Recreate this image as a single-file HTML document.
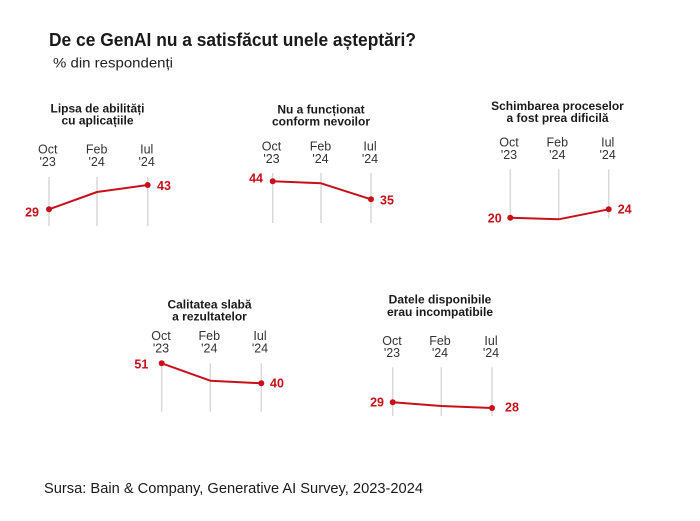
<!DOCTYPE html>
<html><head><meta charset="utf-8"><style>
html,body{margin:0;padding:0;background:#fff;}
svg{display:block;}
text{font-family:"Liberation Sans",Arial,sans-serif;}
.t{font-weight:bold;font-size:12px;fill:#1a1a1a;text-anchor:middle;}
.k{font-size:12.5px;fill:#333;text-anchor:middle;}
.v{font-weight:bold;font-size:12.5px;fill:#c8101a;}
.g{stroke:#d9d9d9;stroke-width:1.5;}
.l{fill:none;stroke:#c8101a;stroke-width:2;stroke-linejoin:round;}
.d{fill:#c8101a;}
</style></head><body>
<svg width="700" height="521" viewBox="0 0 700 521" xmlns="http://www.w3.org/2000/svg">
<rect width="700" height="521" fill="#fff"/>
<text x="49" y="46" font-size="18" font-weight="bold" fill="#1a1a1a" textLength="367" lengthAdjust="spacingAndGlyphs">De ce GenAI nu a satisfăcut unele așteptări?</text>
<text x="53" y="67.5" font-size="13.5" fill="#222" textLength="120" lengthAdjust="spacingAndGlyphs">% din respondenți</text>

<!-- Panel 1 -->
<text class="t" x="97.5" y="112.7">Lipsa de abilități</text>
<text class="t" x="97.5" y="124.5">cu aplicațiile</text>
<text class="k" x="47.7" y="153.5">Oct</text><text class="k" x="47.7" y="166">'23</text>
<text class="k" x="96.7" y="153.5">Feb</text><text class="k" x="96.7" y="166">'24</text>
<text class="k" x="146.7" y="153.5">Iul</text><text class="k" x="146.7" y="166">'24</text>
<line class="g" x1="49" y1="177" x2="49" y2="226"/>
<line class="g" x1="97" y1="177" x2="97" y2="226"/>
<line class="g" x1="147.7" y1="177" x2="147.7" y2="226"/>
<polyline class="l" points="49,209.3 97,192 147.7,185"/>
<circle class="d" cx="49" cy="209.3" r="3"/><circle class="d" cx="147.7" cy="185" r="3"/>
<text class="v" x="39" y="216.5" text-anchor="end">29</text>
<text class="v" x="157" y="190">43</text>

<!-- Panel 2 -->
<text class="t" x="321" y="113.3">Nu a funcționat</text>
<text class="t" x="321" y="125.5">conform nevoilor</text>
<text class="k" x="271.5" y="150.5">Oct</text><text class="k" x="271.5" y="163">'23</text>
<text class="k" x="320.5" y="150.5">Feb</text><text class="k" x="320.5" y="163">'24</text>
<text class="k" x="370" y="150.5">Iul</text><text class="k" x="370" y="163">'24</text>
<line class="g" x1="272.7" y1="173" x2="272.7" y2="223"/>
<line class="g" x1="321" y1="173" x2="321" y2="223"/>
<line class="g" x1="371" y1="173" x2="371" y2="223"/>
<polyline class="l" points="272.7,181.3 321,183.3 371,199.3"/>
<circle class="d" cx="272.7" cy="181.3" r="3"/><circle class="d" cx="371" cy="199.3" r="3"/>
<text class="v" x="263" y="182.5" text-anchor="end">44</text>
<text class="v" x="380" y="204.5">35</text>

<!-- Panel 3 -->
<text class="t" x="557.5" y="110">Schimbarea proceselor</text>
<text class="t" x="557.5" y="122">a fost prea dificilă</text>
<text class="k" x="509" y="146.5">Oct</text><text class="k" x="509" y="159">'23</text>
<text class="k" x="557.3" y="146.5">Feb</text><text class="k" x="557.3" y="159">'24</text>
<text class="k" x="607.7" y="146.5">Iul</text><text class="k" x="607.7" y="159">'24</text>
<line class="g" x1="510.3" y1="169.3" x2="510.3" y2="218.3"/>
<line class="g" x1="558.7" y1="169.3" x2="558.7" y2="218.3"/>
<line class="g" x1="608.7" y1="169.3" x2="608.7" y2="218.3"/>
<polyline class="l" points="510.3,217.7 558.7,219.3 608.7,209.3"/>
<circle class="d" cx="510.3" cy="217.7" r="3"/><circle class="d" cx="608.7" cy="209.3" r="3"/>
<text class="v" x="501.7" y="222.5" text-anchor="end">20</text>
<text class="v" x="617.7" y="213.5">24</text>

<!-- Panel 4 -->
<text class="t" x="209.5" y="308.5">Calitatea slabă</text>
<text class="t" x="209.5" y="320.3">a rezultatelor</text>
<text class="k" x="161" y="340">Oct</text><text class="k" x="161" y="352.5">'23</text>
<text class="k" x="209.3" y="340">Feb</text><text class="k" x="209.3" y="352.5">'24</text>
<text class="k" x="260" y="340">Iul</text><text class="k" x="260" y="352.5">'24</text>
<line class="g" x1="161.7" y1="363.3" x2="161.7" y2="411.7"/>
<line class="g" x1="210.3" y1="363.3" x2="210.3" y2="411.7"/>
<line class="g" x1="261.3" y1="363.3" x2="261.3" y2="411.7"/>
<polyline class="l" points="161.7,363.3 210.3,380.7 261.3,383.3"/>
<circle class="d" cx="161.7" cy="363.3" r="3"/><circle class="d" cx="261.3" cy="383.3" r="3"/>
<text class="v" x="148.3" y="368.5" text-anchor="end">51</text>
<text class="v" x="270" y="387.5">40</text>

<!-- Panel 5 -->
<text class="t" x="440" y="303.5">Datele disponibile</text>
<text class="t" x="440" y="316">erau incompatibile</text>
<text class="k" x="392" y="345">Oct</text><text class="k" x="392" y="357">'23</text>
<text class="k" x="440" y="345">Feb</text><text class="k" x="440" y="357">'24</text>
<text class="k" x="491" y="345">Iul</text><text class="k" x="491" y="357">'24</text>
<line class="g" x1="392.7" y1="367.3" x2="392.7" y2="416"/>
<line class="g" x1="441.3" y1="367.3" x2="441.3" y2="416"/>
<line class="g" x1="492" y1="367.3" x2="492" y2="416"/>
<polyline class="l" points="392.7,402.3 441.3,406 492,408"/>
<circle class="d" cx="392.7" cy="402.3" r="3"/><circle class="d" cx="492" cy="408" r="3"/>
<text class="v" x="384" y="406.5" text-anchor="end">29</text>
<text class="v" x="505" y="411.5">28</text>

<text x="44" y="493" font-size="14.5" fill="#1a1a1a" textLength="379" lengthAdjust="spacingAndGlyphs">Sursa: Bain &amp; Company, Generative AI Survey, 2023-2024</text>
</svg>
</body></html>
